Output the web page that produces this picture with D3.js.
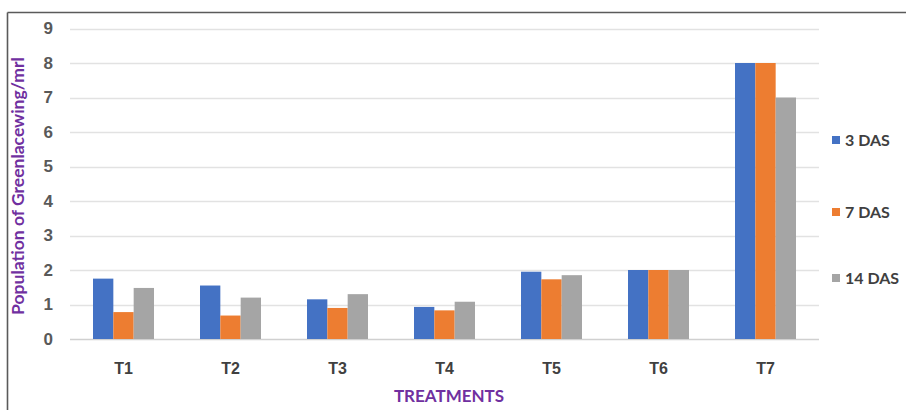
<!DOCTYPE html>
<html>
<head>
<meta charset="utf-8">
<script src="https://cdn.jsdelivr.net/npm/d3@7"></script>
<style>
  html, body { margin: 0; padding: 0; background: #fff; }
  svg { display: block; font-family: Lato, "Open Sans", sans-serif; }
</style>
</head>
<body>
<svg id="chart" width="906" height="410"></svg>
<script>
// Treatments along the x axis
const treatments = ["T1", "T2", "T3", "T4", "T5", "T6", "T7"];
// Series: days after spraying
const seriesNames = ["3 DAS", "7 DAS", "14 DAS"];
const das3 = [1.75, 1.55, 1.15, 0.93, 1.95, 2.0, 8.0];
const das7 = [0.78, 0.68, 0.9, 0.83, 1.73, 2.0, 8.0];
const das14 = [1.48, 1.2, 1.3, 1.08, 1.85, 2.0, 7.0];
const yTicks = [0, 1, 2, 3, 4, 5, 6, 7, 8, 9];

const seriesValues = [das3, das7, das14];
const colors = ["#4472C4", "#ED7D31", "#A5A5A5"];

const svg = d3.select("#chart");

// Frame lines
svg.append("line").attr("x1", 7.5).attr("x2", 906).attr("y1", 12.5).attr("y2", 12.5)
  .attr("stroke", "#5a5a5a").attr("stroke-width", 1.6);
svg.append("line").attr("x1", 7.5).attr("x2", 7.5).attr("y1", 12.5).attr("y2", 410)
  .attr("stroke", "#5a5a5a").attr("stroke-width", 1.6);

const x0 = d3.scaleBand().domain(treatments).range([70, 819]).paddingInner(0.43).paddingOuter(0.215);
const x1 = d3.scaleBand().domain(seriesNames).range([0, x0.bandwidth()]);
const y = d3.scaleLinear().domain([0, 9]).range([339, 28.5]);

// Gridlines
svg.append("g").selectAll("line").data(yTicks).join("line")
  .attr("x1", 70).attr("x2", 819)
  .attr("y1", d => Math.round(y(d)) + 0.5).attr("y2", d => Math.round(y(d)) + 0.5)
  .attr("stroke", d => d === 0 ? "#d0d0d0" : "#e2e2e2").attr("stroke-width", 1.3);

// Y axis tick labels
const yAxis = d3.axisLeft(y).tickValues(yTicks).tickSize(0).tickPadding(0).tickFormat(d3.format("d"));
const gy = svg.append("g").attr("transform", "translate(53,0)").call(yAxis);
gy.select(".domain").remove();
gy.selectAll("text").attr("fill", "#595959").attr("font-size", 17).attr("font-weight", 700);

// X axis category labels
const xAxis = d3.axisBottom(x0).tickSize(0).tickPadding(0);
const gx = svg.append("g").attr("transform", "translate(0,363)").call(xAxis);
gx.select(".domain").remove();
gx.selectAll("text").attr("fill", "#404040").attr("font-size", 16).attr("font-weight", 700);

// Bars
const groups = svg.append("g").selectAll("g").data(treatments).join("g")
  .attr("transform", d => `translate(${x0(d)},0)`);
groups.selectAll("rect")
  .data((d, i) => seriesNames.map((s, j) => ({ s, v: seriesValues[j][i], c: colors[j] })))
  .join("rect")
  .attr("x", d => x1(d.s))
  .attr("width", x1.bandwidth())
  .attr("y", d => y(d.v))
  .attr("height", d => y(0) - y(d.v))
  .attr("fill", d => d.c);

// Axis titles
svg.append("text")
  .attr("transform", "translate(24,186) rotate(-90)")
  .attr("text-anchor", "middle")
  .attr("fill", "#7030A0").attr("font-size", 17.5).attr("font-weight", 700)
  .text("Population of Greenlacewing/mrl");

svg.append("text")
  .attr("x", 449).attr("y", 402)
  .attr("text-anchor", "middle")
  .attr("fill", "#7030A0").attr("font-size", 17).attr("font-weight", 700)
  .text("TREATMENTS");

// Legend
const legendY = [140, 212, 278];
const legend = svg.append("g").selectAll("g").data(seriesNames).join("g")
  .attr("transform", (d, i) => `translate(832,${legendY[i]})`);
legend.append("rect").attr("x", 0).attr("y", -4).attr("width", 8).attr("height", 8)
  .attr("fill", (d, i) => colors[i]);
legend.append("text").attr("x", 13).attr("y", 0).attr("dy", "0.35em")
  .attr("fill", "#404040").attr("font-size", 16).attr("font-weight", 700)
  .text(d => d);
</script>
</body>
</html>
